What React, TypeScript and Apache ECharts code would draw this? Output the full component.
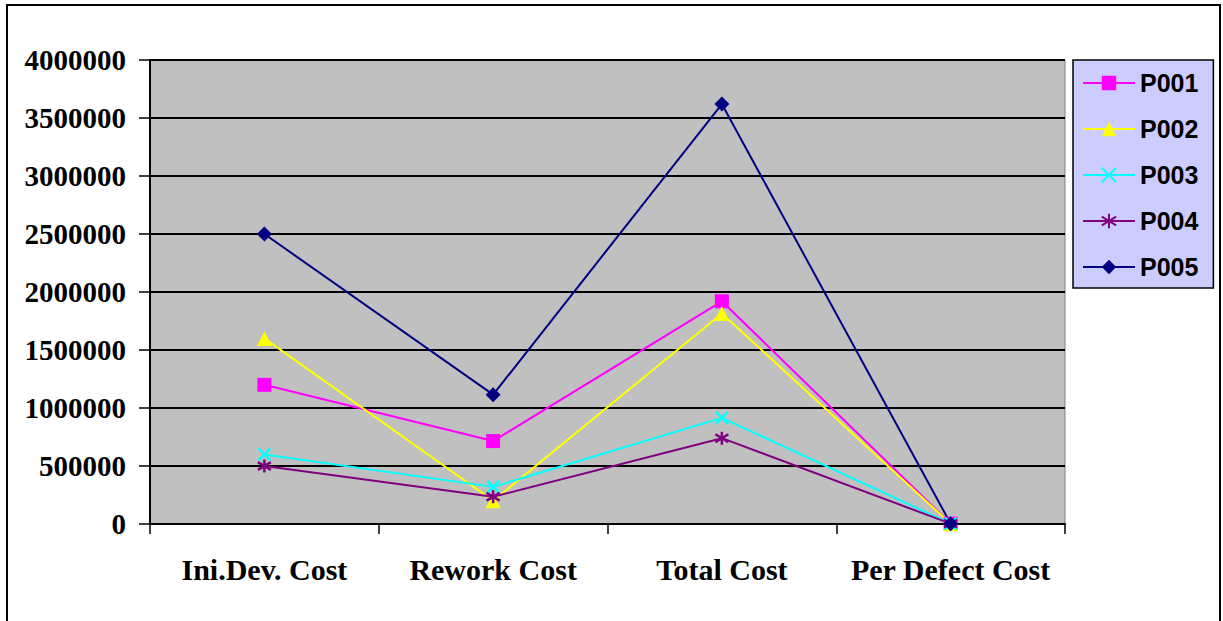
import React, { useEffect, useRef } from "react";
import * as echarts from "echarts";

// Cost categories along the x axis
const categories = ["Ini.Dev. Cost", "Rework Cost", "Total Cost", "Per Defect Cost"];

// Project cost series
const p001 = [1200000, 715000, 1920000, 3000];
const p002 = [1600000, 200000, 1815000, 3000];
const p003 = [600000, 320000, 915000, 3000];
const p004 = [500000, 235000, 740000, 3000];
const p005 = [2500000, 1115000, 3620000, 3000];

const seriesNames = ["P001", "P002", "P003", "P004", "P005"];
const seriesColors = ["#FF00FF", "#FFFF00", "#00FFFF", "#800080", "#000080"];

// Y axis range
const yMin = 0;
const yMax = 4000000;
const yStep = 500000;

const X_MARK = "path://M0,0 L10,10 M10,0 L0,10";
const STAR_MARK = "path://M5,0 L5,10 M0,2 L10,8 M0,8 L10,2";

export default function App() {
  const ref = useRef<HTMLDivElement>(null);

  useEffect(() => {
    if (!ref.current) return;
    const chart = echarts.init(ref.current, undefined, { renderer: "svg" });

    const values = [p001, p002, p003, p004, p005];
    const symbols = ["rect", "triangle", X_MARK, STAR_MARK, "diamond"];
    const sizes = [14, 15, 12, 13, 15];

    const series = values.map((data, i) => {
      const stroked = i === 2 || i === 3;
      return {
        name: seriesNames[i],
        type: "line",
        data,
        symbol: symbols[i],
        symbolSize: sizes[i],
        showAllSymbol: true,
        lineStyle: { color: seriesColors[i], width: 2 },
        itemStyle: stroked
          ? { color: "none", borderColor: seriesColors[i], borderWidth: 2.5 }
          : { color: seriesColors[i], borderWidth: 0 },
        emphasis: { disabled: true },
      };
    });

    chart.setOption({
      animation: false,
      backgroundColor: "#FFFFFF",
      grid: {
        left: 150,
        top: 60,
        width: 915,
        height: 464,
        show: true,
        backgroundColor: "#C0C0C0",
        borderColor: "#808080",
        borderWidth: 1,
      },
      legend: {
        orient: "vertical",
        left: 1073,
        top: 60,
        padding: [10, 15, 8, 9],
        backgroundColor: "#CCCCFF",
        borderColor: "#000000",
        borderWidth: 1.5,
        itemWidth: 52,
        itemHeight: 18,
        itemGap: 20,
        data: seriesNames,
        textStyle: {
          fontFamily: "Liberation Sans",
          fontWeight: "bold",
          fontSize: 25,
          lineHeight: 26,
          color: "#000000",
        },
      },
      xAxis: {
        type: "category",
        data: categories,
        boundaryGap: true,
        axisLine: { show: true, lineStyle: { color: "#000000", width: 2 } },
        axisTick: {
          show: true,
          length: 10,
          interval: 0,
          alignWithLabel: false,
          lineStyle: { color: "#000000", width: 1.5 },
        },
        axisLabel: {
          interval: 0,
          margin: 30,
          fontFamily: "Liberation Serif",
          fontWeight: "bold",
          fontSize: 30,
          color: "#000000",
        },
        splitLine: { show: false },
      },
      yAxis: {
        type: "value",
        min: yMin,
        max: yMax,
        interval: yStep,
        axisLine: { show: true, lineStyle: { color: "#000000", width: 2 } },
        axisTick: { show: true, length: 11, lineStyle: { color: "#000000", width: 1.5 } },
        axisLabel: {
          margin: 24,
          fontFamily: "Liberation Serif",
          fontWeight: "bold",
          fontSize: 29,
          color: "#000000",
          formatter: (v: number) => String(v),
        },
        splitLine: { show: true, lineStyle: { color: "#000000", width: 2 } },
      },
      graphic: [
        {
          type: "rect",
          shape: { x: 7, y: 5, width: 1213, height: 640 },
          style: { fill: "none", stroke: "#000000", lineWidth: 2 },
          silent: true,
        },
      ],
      series,
    });

    return () => chart.dispose();
  }, []);

  return (
    <div
      ref={ref}
      style={{ position: "fixed", left: 0, top: 0, width: 1223, height: 621 }}
    />
  );
}
